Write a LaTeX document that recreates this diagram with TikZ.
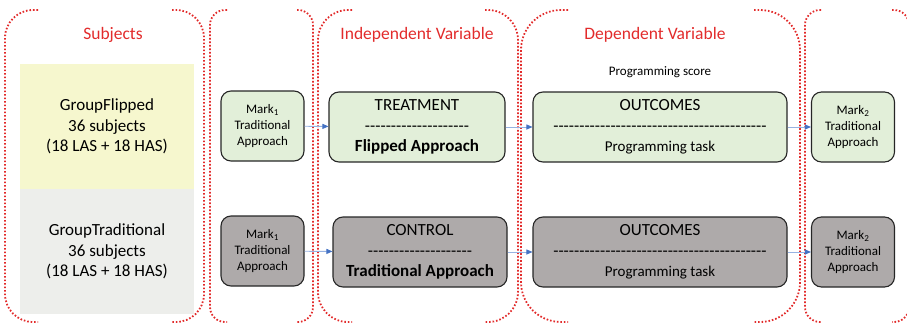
\documentclass[tikz,border=0pt]{standalone}
\usepackage{fontspec}
\setmainfont{Carlito}
\usetikzlibrary{arrows.meta}
\definecolor{bracketred}{RGB}{226,43,43}
\definecolor{flipyellow}{RGB}{246,247,206}
\definecolor{tradgray}{RGB}{237,238,235}
\definecolor{stepgreen}{RGB}{226,239,217}
\definecolor{stepgray}{RGB}{174,170,170}
\definecolor{lineblue}{RGB}{150,178,226}
\definecolor{tipblue}{RGB}{68,114,196}
\newcommand\dashrow[1]{\foreach \n in {1,...,#1}{-\kern0pt}}
\tikzset{
    design/.style={
        x=1pt, y=-1pt,
        bracket/.style={draw=bracketred, line width=1.8pt, dash pattern=on 1.6pt off 1.9pt},
        heading/.style={text=bracketred, font=\fontsize{17.5}{21}\selectfont},
        note/.style={font=\fontsize{13}{16}\selectfont},
        group/.style={inner sep=0pt, minimum width=174pt, minimum height=125pt, align=center, font=\fontsize{17}{20.5}\selectfont},
        markbox/.style={draw=black!85, line width=1.1pt, rounded corners=10pt, inner sep=0pt, minimum width=83pt, minimum height=70pt, align=center, font=\fontsize{13}{16}\selectfont},
        stagebox/.style={draw=black!85, line width=1.1pt, rounded corners=10pt, inner sep=0pt, minimum height=70pt, align=center, font=\fontsize{17}{20.5}\selectfont},
        link/.style={draw=lineblue, line width=0.9pt, -{Triangle[length=6pt, width=5pt, color=tipblue]}},
    },
}

\begin{document}
\begin{tikzpicture}[design]
    \useasboundingbox (0,0) rectangle (907,324);

    % dotted brackets round the columns
    \foreach \xa/\xb/\xc/\xd/\r in {5/38/172/204/28, 210/227/297/313/15, 318/352/485/518/30, 521/568/754/800/40, 805/821/892/909/15}
    {
        \draw[bracket, rounded corners=\r pt] (\xb,10) -| (\xa,322) -- (\xb,322);
        \draw[bracket, rounded corners=\r pt] (\xc,10) -| (\xd,322) -- (\xc,322);
    }

    \node[heading] (subj)  at (113,35) {Subjects};
    \node[heading] (indep) at (417,35) {Independent Variable};
    \node[heading] (dep)   at (655,35) {Dependent Variable};
    \node[note]    (score) at (660,72) {Programming score};

    \node[group, fill=flipyellow] (gflip) at (107,126.5) {GroupFlipped\\36 subjects\\(18 LAS + 18 HAS)};
    \node[group, fill=tradgray]   (gtrad) at (107,251.5) {GroupTraditional\\36 subjects\\(18 LAS + 18 HAS)};

    \node[markbox, fill=stepgreen] (m1f) at (262.5,126) {Mark\textsubscript{1}\\Traditional\\Approach};
    \node[stagebox, fill=stepgreen, minimum width=176pt] (treat) at (417,127) {TREATMENT\\\dashrow{20}\\\textbf{Flipped Approach}};
    \node[stagebox, fill=stepgreen, minimum width=254pt] (outf) at (660,127) {OUTCOMES\\\dashrow{41}\\{\fontsize{15}{20.5}\selectfont Programming task}};
    \node[markbox, fill=stepgreen] (m2f) at (853,127) {Mark\textsubscript{2}\\Traditional\\Approach};

    \node[markbox, fill=stepgray] (m1t) at (262.5,251) {Mark\textsubscript{1}\\Traditional\\Approach};
    \node[stagebox, fill=stepgray, minimum width=174pt] (ctrl) at (420,252) {CONTROL\\\dashrow{20}\\\textbf{Traditional Approach}};
    \node[stagebox, fill=stepgray, minimum width=254pt] (outt) at (660,252) {OUTCOMES\\\dashrow{41}\\{\fontsize{15}{20.5}\selectfont Programming task}};
    \node[markbox, fill=stepgray] (m2t) at (853,252) {Mark\textsubscript{2}\\Traditional\\Approach};

    \draw[link] (m1f) -- (treat);  \draw[link] (treat) -- (outf);  \draw[link] (outf) -- (m2f);
    \draw[link] (m1t) -- (ctrl);   \draw[link] (ctrl) -- (outt);   \draw[link] (outt) -- (m2t);
\end{tikzpicture}
\end{document}
